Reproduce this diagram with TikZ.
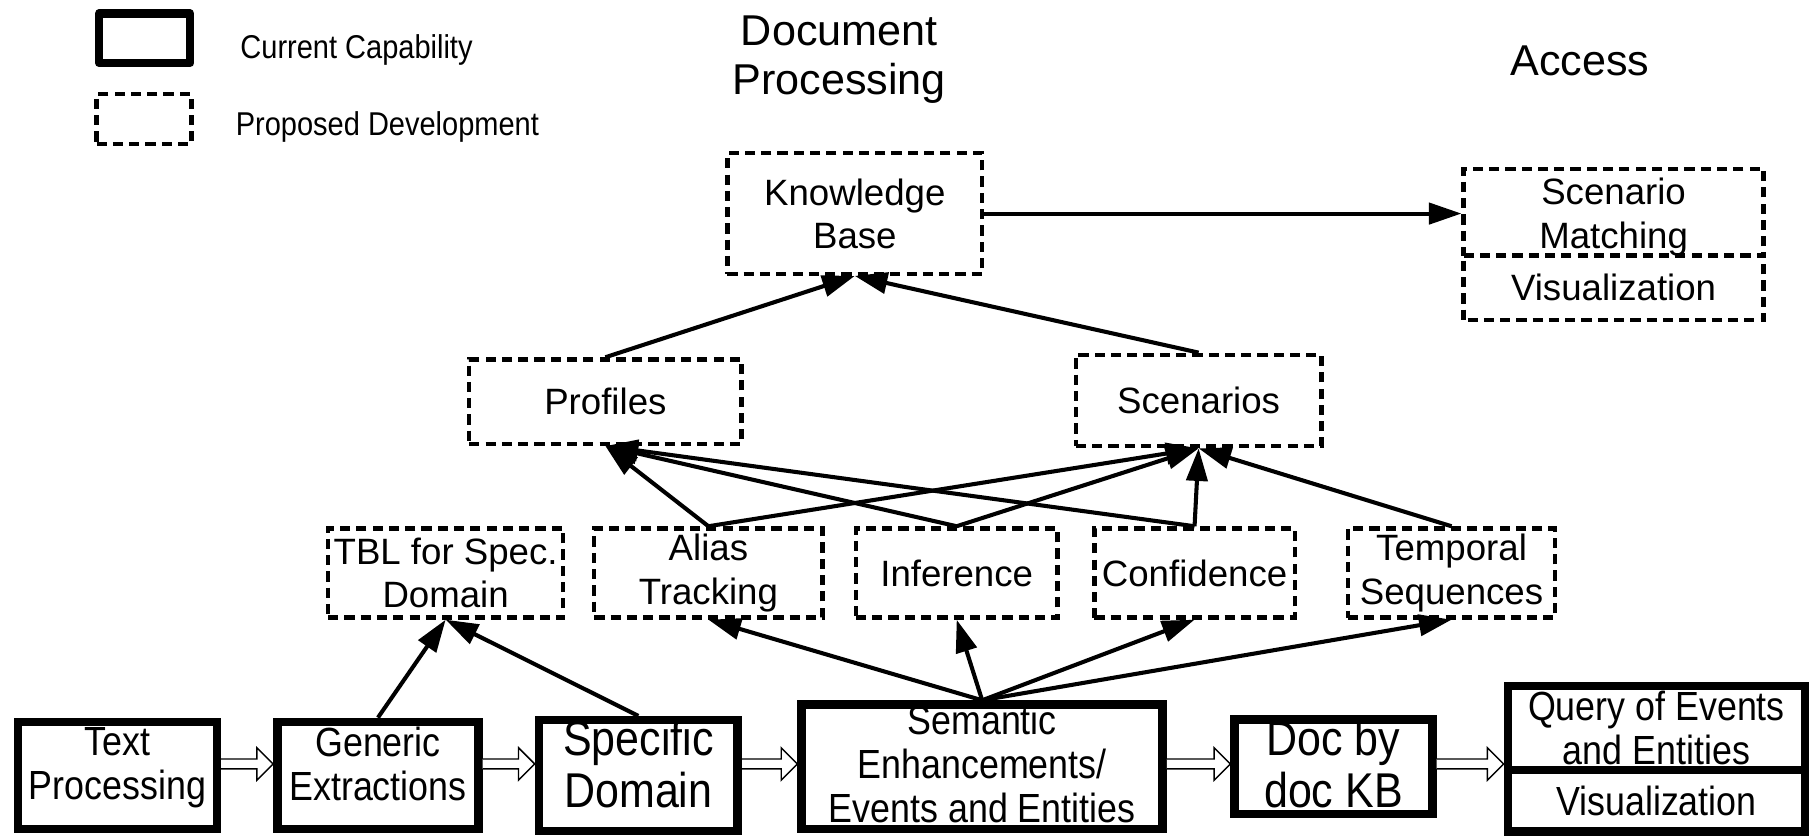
\documentclass[tikz,border=0pt]{standalone}
\usepackage{fontspec}
\setmainfont{Liberation Sans}
\newfontfamily\narrowsans[FakeStretch=0.88]{Liberation Sans}
\usetikzlibrary{arrows.meta,calc}
\newcommand{\padbelow}[1]{\rule[-#1]{0pt}{#1}}
\newcommand{\pipe}[2]{%
  \draw[pipe] ($(#1.east |- flow)+(0,4.3)$) -- ($(#2.west |- flow)+(-14,4.3)$)
    -- ($(#2.west |- flow)+(-14,14)$) -- (#2.west |- flow)
    -- ($(#2.west |- flow)+(-14,-14)$) -- ($(#2.west |- flow)+(-14,-4.3)$)
    -- ($(#1.east |- flow)+(0,-4.3)$);}
\begin{document}
\begin{tikzpicture}[x=0.01cm, y=-0.01cm,
        current/.style={rectangle, draw, line width=2.1pt, align=center, inner sep=0pt, font=\narrowsans\fontsize{10}{10.8}\selectfont},
        current_big/.style={current, font=\narrowsans\fontsize{12}{12.8}\selectfont},
        proposed/.style={rectangle, draw, line width=1.05pt, dash pattern=on 2.5pt off 1.5pt, align=center, inner sep=0pt, font=\fontsize{9}{10.6}\selectfont},
        header/.style={align=center, inner sep=0pt, font=\fontsize{10.6}{12.2}\selectfont},
        legend/.style={anchor=west, inner sep=0pt, font=\narrowsans\fontsize{8.1}{9}\selectfont},
        link/.style={line width=1pt, -{Triangle[length=8pt, width=5.2pt]}},
        pipe/.style={draw, fill=white, line width=0.35pt, line join=miter},]

        \useasboundingbox (0,0) rectangle (1568,724);
        \coordinate (flow) at (0,660);

        % Legend
        \node[current, line join=round, minimum width=0.786cm, minimum height=0.426cm] (legcur) at (125,33) {};
        \node[proposed, minimum width=0.82cm, minimum height=0.43cm] (legprop) at (124.5,103) {};
        \node[legend] (legcurtext) at (207,43) {Current Capability};
        \node[legend] (legproptext) at (203,110) {Proposed Development};

        % Headers
        \node[header] (hdoc) at (725,51.5) {Document\\Processing};
        \node[header] (hacc) at (1365,53) {Access};

        % Proposed development
        \node[proposed, minimum width=2.2cm, minimum height=1.04cm] (kb) at (738.5,184.5) {Knowledge\\Base};
        \node[proposed, minimum width=2.59cm, minimum height=0.735cm] (scm) at (1394,183.3) {\rule{0pt}{8.9pt}Scenario\\Matching};
        \node[proposed, dash phase=3.04pt, minimum width=2.59cm, minimum height=0.565cm] (scmvis) at (1394,248.3) {Visualization};
        \node[proposed, minimum width=2.35cm, minimum height=0.73cm] (prof) at (523,347) {Profiles};
        \node[proposed, minimum width=2.12cm, minimum height=0.79cm] (scen) at (1035.5,346) {Scenarios};
        \node[proposed, minimum width=2.03cm, minimum height=0.77cm] (tbl) at (385,495) {TBL for Spec.\\Domain};
        \node[proposed, minimum width=1.97cm, minimum height=0.77cm] (alias) at (612,495) {Alias\\Tracking};
        \node[proposed, minimum width=1.74cm, minimum height=0.77cm] (infer) at (826.5,495) {Inference};
        \node[proposed, minimum width=1.73cm, minimum height=0.77cm] (conf) at (1032,495) {Confidence};
        \node[proposed, minimum width=1.79cm, minimum height=0.77cm] (temp) at (1254,495) {Temporal\\Sequences};

        % Current capability
        \node[current, minimum width=1.716cm, minimum height=0.926cm] (textproc) at (101.5,670) {Text\\Processing\padbelow{5.7pt}};
        \node[current, minimum width=1.736cm, minimum height=0.926cm] (generic) at (326.5,670) {Generic\\Extractions\padbelow{5.7pt}};
        \node[current_big, minimum width=1.716cm, minimum height=0.926cm] (specific) at (551.5,670) {Specific\\Domain\padbelow{5.7pt}};
        \node[current, minimum width=3.116cm, minimum height=1.076cm] (semantic) at (848.5,662.5) {Semantic\\Enhancements/\\Events and Entities\padbelow{1.4pt}};
        \node[current_big, minimum width=1.706cm, minimum height=0.736cm] (dockb) at (1152,662.5) {Doc by\\doc KB\padbelow{1.7pt}};
        \node[current, minimum width=2.566cm, minimum height=0.723cm] (query) at (1431,628.9) {Query of Events\\and Entities};
        \node[current, minimum width=2.566cm, minimum height=0.533cm] (queryvis) at (1431,691.7) {Visualization};

        % Pipeline
        \pipe{textproc}{generic}
        \pipe{generic}{specific}
        \pipe{specific}{semantic}
        \pipe{semantic}{dockb}
        \pipe{dockb}{query}

        %Links
        \draw[link] (generic.north) -- (tbl.south);
        \draw[link] (specific.north) -- (tbl.south);
        \draw[link] (semantic.north) -- (alias.south);
        \draw[link] (semantic.north) -- (infer.south);
        \draw[link] (semantic.north) -- (conf.south);
        \draw[link] (semantic.north) -- (temp.south);
        \draw[link] (alias.north) -- (prof.south);
        \draw[link] (alias.north) -- (scen.south);
        \draw[link] (infer.north) -- (prof.south);
        \draw[link] (infer.north) -- (scen.south);
        \draw[link] (conf.north) -- (prof.south);
        \draw[link] (conf.north) -- (scen.south);
        \draw[link] (temp.north) -- (scen.south);
        \draw[link] (prof.north) -- (kb.south);
        \draw[link] (scen.north) -- (kb.south);
        \draw[link] (kb.east) -- (kb.east -| scm.west);
    \end{tikzpicture}
\end{document}
